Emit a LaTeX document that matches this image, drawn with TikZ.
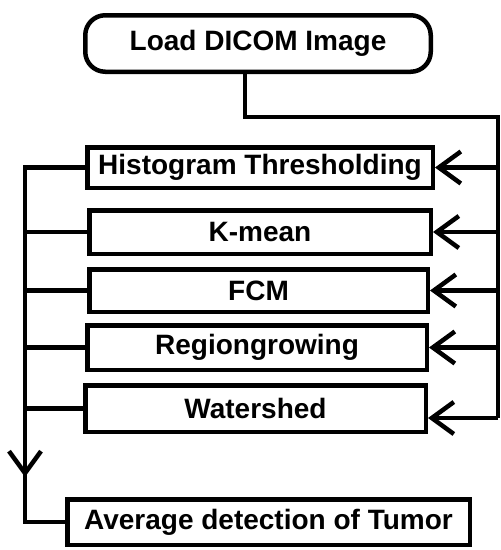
\documentclass[tikz,border=0pt]{standalone}
\usepackage{fontspec}
\setmainfont{Liberation Sans}
\usetikzlibrary{arrows.meta}

\begin{document}
\begin{tikzpicture}[
  x=1pt, y=-1pt,
  box/.style={rectangle, draw, line width=4.5pt, inner sep=0pt,
              minimum width=340pt, minimum height=44pt,
              font=\fontsize{28}{30}\selectfont\bfseries},
  start/.style={box, rounded corners=20pt, minimum width=345.5pt,
                minimum height=56.5pt},
  link/.style={line width=4.5pt},
  arrow/.style={link, -{Straight Barb[length=22pt, width=32pt]}}
]
\useasboundingbox (0,0) rectangle (501,550);

% Cajas
\node[start] (load) at (258,43.5) {Load DICOM Image};
\node[box, minimum width=345.5pt, minimum height=40.5pt] (hist) at (260,167.5) {Histogram Thresholding};
\node[box, minimum width=341.5pt, minimum height=43.5pt] (kmean) at (260,232) {K-mean};
\node[box, minimum width=338.5pt, minimum height=42.5pt] (fcm) at (258.5,290.5) {FCM};
\node[box, minimum width=339.5pt, minimum height=44.5pt] (region) at (257,347.5) {Regiongrowing};
\node[box, minimum width=340.5pt, minimum height=46.5pt] (water) at (255.5,408.5) {Watershed};
\node[box, minimum width=402.5pt, minimum height=45.5pt] (avg) at (268.5,522) {Average detection of Tumor};

% Puntos de apoyo
\coordinate (split) at (245,117);
\coordinate (rtop) at (498,117);
\coordinate (rbot) at (498,418);
\coordinate (lbus) at (25,0);
\coordinate (ldown) at (25,477);

% Lado derecho
\draw[link] (split |- load.south) -- (split) -- (rtop) -- (rbot);
\foreach \n in {hist,kmean,fcm,region}
  \draw[arrow] (\n.east -| rtop) -- (\n.east);
\draw[arrow] (rbot) -- (rbot -| water.east);

% Lado izquierdo
\draw[link] (hist.west) -- (hist.west -| lbus) |- (avg.west);
\foreach \n in {kmean,fcm,region,water}
  \draw[link] (\n.west) -- (\n.west -| lbus);
\draw[arrow] (hist.west -| lbus) -- (ldown);
\end{tikzpicture}
\end{document}
